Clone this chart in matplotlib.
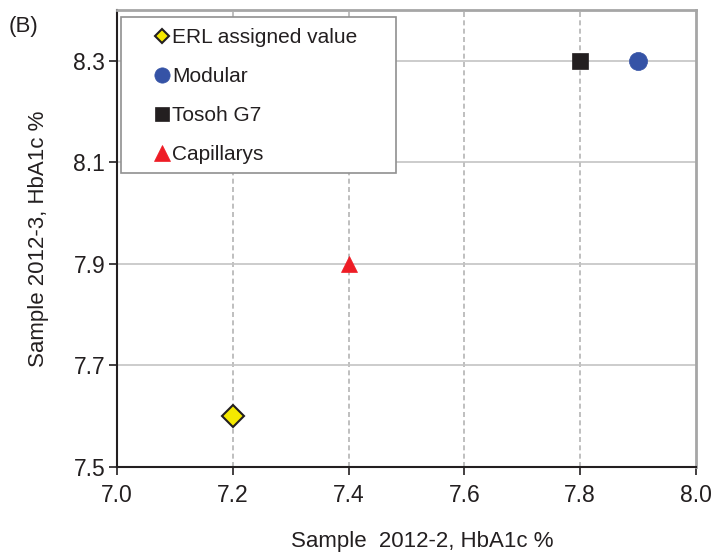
import matplotlib.pyplot as plt
from matplotlib.lines import Line2D
from matplotlib.patches import Rectangle

plt.rcParams['font.family'] = ['Liberation Sans', 'DejaVu Sans']

# 数据
labels = ['ERL assigned value', 'Modular', 'Tosoh G7', 'Capillarys']
x_vals = [7.2, 7.9, 7.8, 7.4]
y_vals = [7.6, 8.3, 8.3, 7.9]
markers = ['D', 'o', 's', '^']
colors = ['#f5e900', '#3553a6', '#231f20', '#ee1c25']
sizes = [11, 13, 12, 12]
leg_sizes = [7, 11, 10, 11]

xticks = [7.0, 7.2, 7.4, 7.6, 7.8, 8.0]
yticks = [7.5, 7.7, 7.9, 8.1, 8.3]

txt = '#231f20'

fig = plt.figure(figsize=(7.15, 5.55), dpi=100)
ax = fig.add_axes([0.1636, 0.1586, 0.8098, 0.8234])

# 网格
for v in xticks[1:-1]:
    ax.axvline(v, color='#b4b4b4', linestyle=(0, (3, 2)), linewidth=1.2, zorder=1)
for v in yticks[1:]:
    ax.axhline(v, color='#c4c4c4', linestyle='-', linewidth=1.2, zorder=1)

# 散点
for i in range(len(labels)):
    ax.plot(x_vals[i], y_vals[i], marker=markers[i], markersize=sizes[i],
            color=colors[i], markeredgecolor=txt if i == 0 else colors[i],
            markeredgewidth=1.5 if i == 0 else 0.5, linestyle='none', zorder=3)

ax.set_xlim(7.0, 8.0)
ax.set_ylim(7.5, 8.4)
ax.set_xticks(xticks)
ax.set_yticks(yticks)
ax.set_xticklabels(['%.1f' % v for v in xticks])
ax.set_yticklabels(['%.1f' % v for v in yticks])
ax.tick_params(direction='out', length=5.5, width=1.2, labelsize=16.5, colors=txt)
ax.tick_params(axis='x', pad=6.5)
ax.tick_params(axis='y', pad=3)

ax.spines['left'].set_color(txt)
ax.spines['bottom'].set_color(txt)
ax.spines['left'].set_linewidth(1.5)
ax.spines['bottom'].set_linewidth(1.5)
ax.spines['top'].set_color('#a6a6a6')
ax.spines['right'].set_color('#a6a6a6')
ax.spines['top'].set_linewidth(2)
ax.spines['right'].set_linewidth(2)

ax.set_xlabel('Sample  2012-2, HbA1c %', fontsize=16, color=txt)
ax.set_ylabel('Sample 2012-3, HbA1c %', fontsize=16, color=txt)
ax.xaxis.set_label_coords(0.527, -0.14)
ax.yaxis.set_label_coords(-0.118, 0.5)

# 图例框
box = Rectangle((0.0069, 0.643), 0.4751, 0.342, transform=ax.transAxes,
                facecolor='white', edgecolor='#909090', linewidth=1.2, zorder=4)
ax.add_patch(box)

handles = []
for i in range(len(labels)):
    handles.append(Line2D([], [], marker=markers[i], markersize=leg_sizes[i],
                          color=colors[i],
                          markeredgecolor=txt if i == 0 else colors[i],
                          markeredgewidth=1.5 if i == 0 else 0.5, linestyle='none'))
leg = ax.legend(handles, labels, loc='upper left', bbox_to_anchor=(0.0634, 0.960),
                fontsize=15, frameon=False, handlelength=0.8,
                handletextpad=0.1, labelspacing=0.96, borderpad=0,
                borderaxespad=0)
for t in leg.get_texts():
    t.set_color(txt)
leg.set_zorder(5)

fig.text(0.0126, 0.953, '(B)', fontsize=16, color=txt, va='center')

plt.savefig('out.png', dpi=100)
